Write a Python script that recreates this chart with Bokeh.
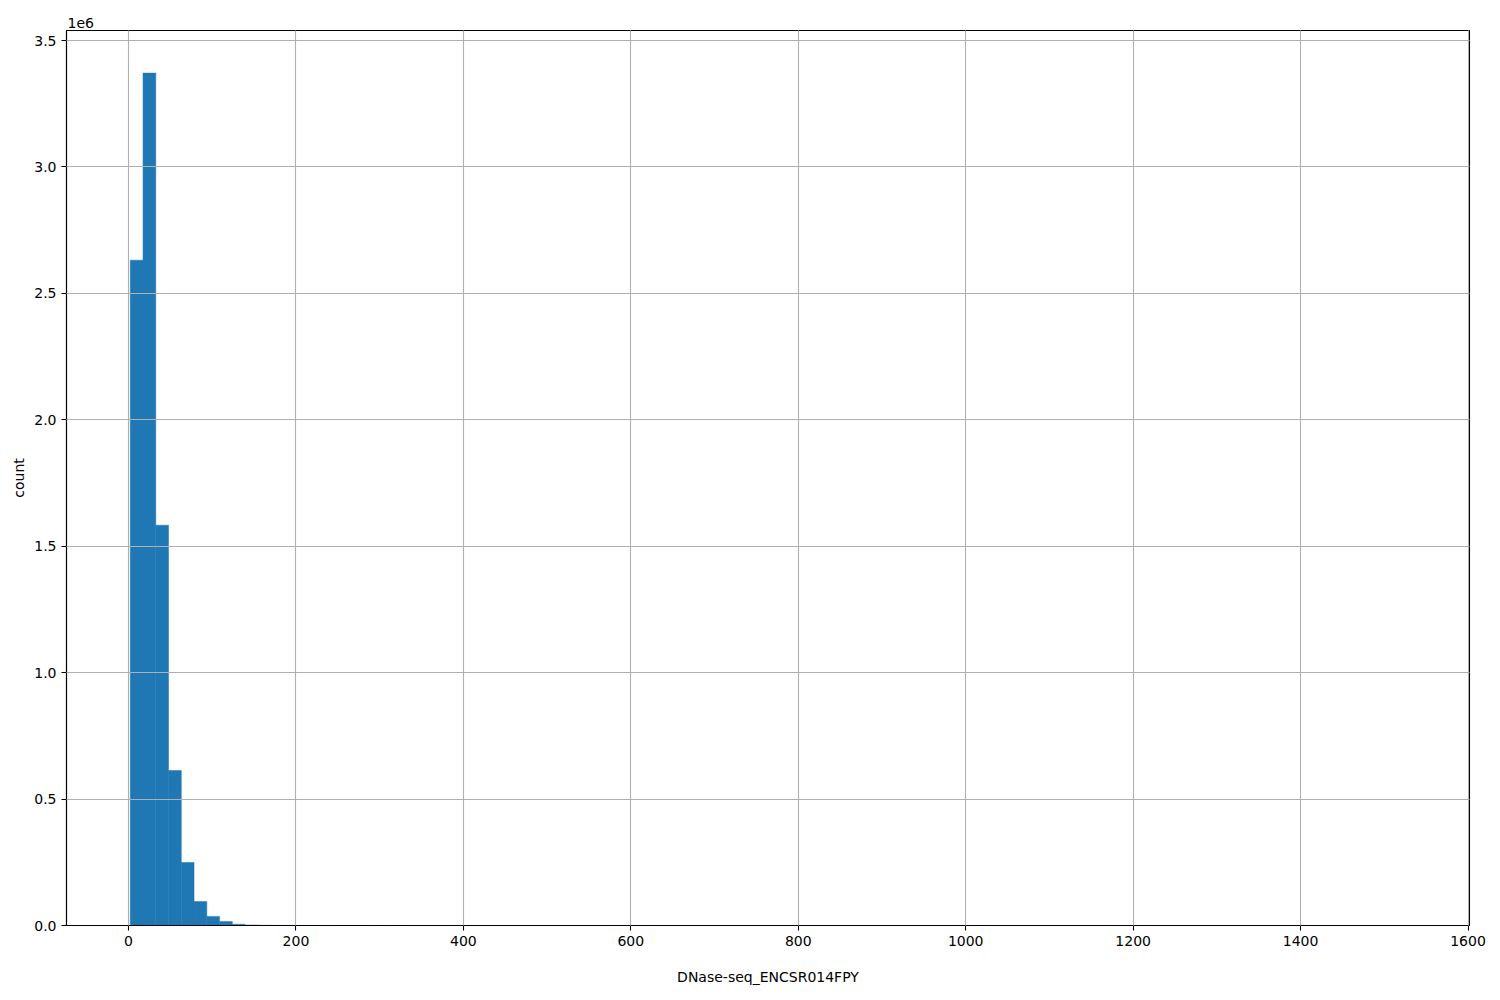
from bokeh.plotting import figure
from bokeh.models import Range1d, FixedTicker, Title, ColumnDataSource
from bokeh.embed import file_html
from bokeh.resources import INLINE

# ---- data ----
x_label = "DNase-seq_ENCSR014FPY"
y_label = "count"
data_min = 2.1
data_max = 1525.6
n_bins = 100
counts = [
    2631000, 3371000, 1583000, 613000, 249000, 95000, 36000, 16000, 5000, 2000,
    800, 400, 200, 100, 60, 30, 15, 8, 4, 2,
    1, 1, 0, 0, 0, 0, 0, 0, 0, 0,
    0, 0, 0, 0, 0, 0, 0, 0, 0, 0,
    0, 0, 0, 0, 0, 0, 0, 0, 0, 0,
    0, 0, 0, 0, 0, 0, 0, 0, 0, 0,
    0, 0, 0, 0, 0, 0, 0, 0, 0, 0,
    0, 0, 0, 0, 0, 0, 0, 0, 0, 0,
    0, 0, 0, 0, 0, 0, 0, 0, 0, 0,
    0, 0, 0, 0, 0, 0, 0, 0, 0, 1,
]
x_ticks = [0, 200, 400, 600, 800, 1000, 1200, 1400, 1600]
y_ticks = [0, 500000, 1000000, 1500000, 2000000, 2500000, 3000000, 3500000]
y_tick_labels = ["0.0", "0.5", "1.0", "1.5", "2.0", "2.5", "3.0", "3.5"]
offset_text = "1e6"

# ---- derived ----
bw = (data_max - data_min) / n_bins
left = [data_min + i * bw for i in range(n_bins)]
right = [data_min + (i + 1) * bw for i in range(n_bins)]
src = ColumnDataSource(dict(left=left, right=right, top=counts, bottom=[0] * n_bins))

span = data_max - data_min
x0, x1 = data_min - 0.05 * span, data_max + 0.05 * span
y1 = max(counts) * 1.05

FONT = "DejaVu Sans"
FS = "14px"

p = figure(width=1492, height=990, output_backend="svg", toolbar_location=None,
           x_range=Range1d(x0, x1), y_range=Range1d(0, y1),
           min_border_left=66, min_border_right=23, min_border_top=30, min_border_bottom=65)

p.quad(left="left", right="right", top="top", bottom="bottom", source=src,
       fill_color="#1f77b4", line_color="#1f77b4", line_width=0.5)

p.outline_line_color = "black"
p.outline_line_width = 1.1
p.outline_line_alpha = 1.0
p.background_fill_color = "white"
p.border_fill_color = "white"

for g in (p.xgrid, p.ygrid):
    g.grid_line_color = "#b0b0b0"
    g.grid_line_width = 1.1
    g.level = "overlay"

p.xaxis.ticker = FixedTicker(ticks=x_ticks)
p.yaxis.ticker = FixedTicker(ticks=y_ticks)
p.xgrid.ticker = FixedTicker(ticks=x_ticks)
p.ygrid.ticker = FixedTicker(ticks=y_ticks)
p.yaxis.major_label_overrides = {t: l for t, l in zip(y_ticks, y_tick_labels)}
p.xaxis.major_label_overrides = {t: str(t) for t in x_ticks}

for ax in (p.xaxis[0], p.yaxis[0]):
    ax.axis_line_color = "black"
    ax.axis_line_width = 1.1
    ax.major_tick_line_color = "black"
    ax.major_tick_line_width = 1.1
    ax.major_tick_out = 5
    ax.major_tick_in = 0
    ax.minor_tick_line_color = None
    ax.major_label_text_font = FONT
    ax.major_label_text_font_size = FS
    ax.major_label_text_color = "black"
    ax.major_label_standoff = 5
    ax.axis_label_text_font = FONT
    ax.axis_label_text_font_size = FS
    ax.axis_label_text_font_style = "normal"
    ax.axis_label_text_color = "black"

p.xaxis.axis_label = x_label
p.yaxis.axis_label = y_label
p.xaxis.axis_label_standoff = 20
p.yaxis.axis_label_standoff = 4

p.add_layout(Title(text=offset_text, align="left", text_font=FONT, text_font_size=FS,
                   text_font_style="normal", text_color="black", standoff=5, offset=1), "above")

open("out.html", "w").write(file_html(p, INLINE))
